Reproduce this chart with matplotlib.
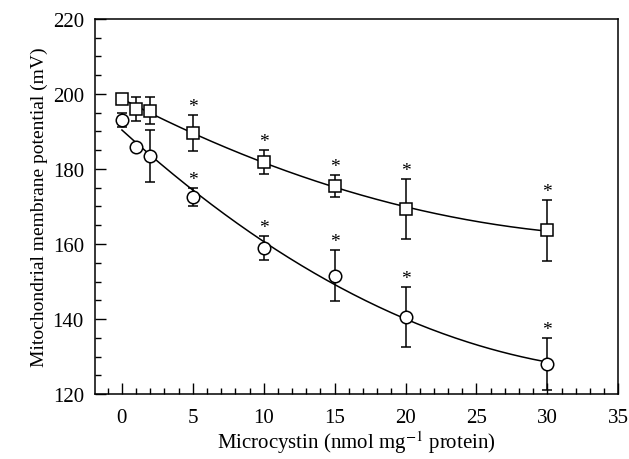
import matplotlib
matplotlib.use('Agg')
import matplotlib.pyplot as plt
import numpy as np
from matplotlib.ticker import MultipleLocator

plt.rcParams['font.family'] = ['Liberation Serif', 'DejaVu Serif']
plt.rcParams['mathtext.fontset'] = 'stix'

# data
dose = [0, 1, 2, 5, 10, 15, 20, 30]
sq_mean = [198.7, 196.0, 195.5, 189.6, 181.9, 175.4, 169.3, 163.6]
sq_err = [1.0, 3.2, 3.6, 4.8, 3.2, 3.0, 8.0, 8.0]
ci_mean = [193.0, 185.8, 183.5, 172.6, 158.9, 151.5, 140.5, 128.0]
ci_err = [1.8, 0.0, 6.9, 2.4, 3.2, 6.8, 8.0, 7.0]
star_dose = [5, 10, 15, 20, 30]

fig = plt.figure(figsize=(6.29, 4.60), dpi=100)
ax = fig.add_axes([0.151, 0.141, 0.832, 0.816])

# fitted curves (quadratic fit of each series)
xs = np.linspace(0, 30, 200)
ax.plot(xs, np.polyval(np.polyfit(dose, sq_mean, 2), xs), color='k', lw=1.1, zorder=2)
ax.plot(xs, np.polyval(np.polyfit(dose, ci_mean, 2), xs), color='k', lw=1.1, zorder=2)

ax.errorbar(dose, sq_mean, yerr=sq_err, fmt='s', ms=8, mfc='white', mec='k', mew=1.1,
            ecolor='k', elinewidth=1.1, capsize=3.5, capthick=1.1, zorder=3)
ax.errorbar(dose, ci_mean, yerr=ci_err, fmt='o', ms=9, mfc='white', mec='k', mew=1.1,
            ecolor='k', elinewidth=1.1, capsize=3.5, capthick=1.1, zorder=3)

# significance asterisks above the upper error bar
for means, errs in [(sq_mean, sq_err), (ci_mean, ci_err)]:
    for d, m, e in zip(dose, means, errs):
        if d in star_dose:
            ax.annotate('*', (d, m + e), xytext=(0, 0), textcoords='offset points',
                        ha='center', va='bottom', fontsize=14)

ax.set_xlim(-1.9, 35)
ax.set_ylim(120, 220)
ax.xaxis.set_major_locator(MultipleLocator(5))
ax.xaxis.set_minor_locator(MultipleLocator(1))
ax.yaxis.set_major_locator(MultipleLocator(20))
ax.yaxis.set_minor_locator(MultipleLocator(5))
ax.tick_params(which='both', direction='in', top=False, right=False, labelsize=15)
ax.tick_params(which='major', length=8, width=1)
ax.tick_params(which='minor', length=4.5, width=1)
ax.tick_params(axis='x', pad=10)
ax.tick_params(axis='y', pad=8)
for s in ax.spines.values():
    s.set_linewidth(1.1)

ax.set_xlabel('Microcystin (nmol mg$^{-1}$ protein)', fontsize=15, labelpad=1)
ax.set_ylabel('Mitochondrial membrane potential (mV)', fontsize=14, labelpad=3)

fig.savefig('out.png', dpi=100)
